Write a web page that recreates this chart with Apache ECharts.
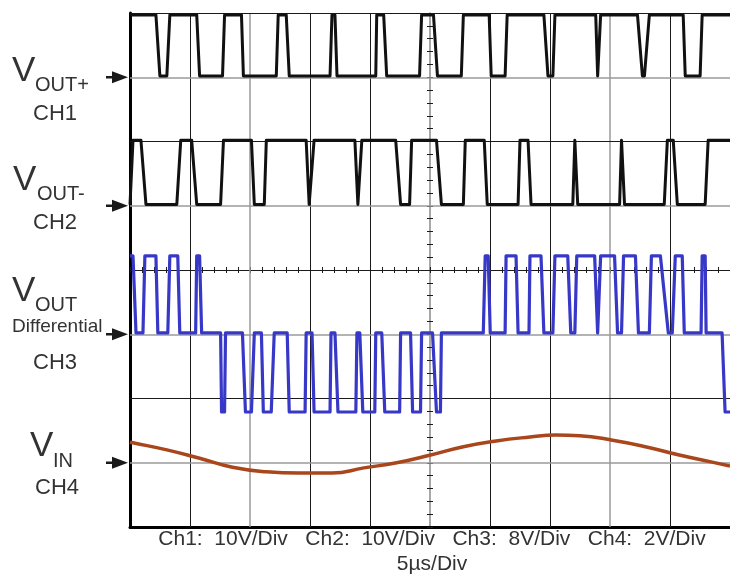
<!DOCTYPE html>
<html>
<head>
<meta charset="utf-8">
<script src="https://cdn.jsdelivr.net/npm/echarts@6/dist/echarts.min.js"></script>
<style>
html,body{margin:0;padding:0;background:#fff;}
#c{width:730px;height:576px;}
</style>
</head>
<body>
<div id="c"></div>
<script>
// ---------- DATA (time in µs, 5 µs/div; amplitude in screen divisions) ----------
const ch1 = [[0,7.97],[2.16,7.97],[2.49,7.02],[3.07,7.02],[3.32,7.97],[5.56,7.97],[5.80,7.02],[7.71,7.02],[7.88,7.97],[9.29,7.97],[9.45,7.02],[12.19,7.02],[12.35,7.97],[13.02,7.97],[13.27,7.02],[16.67,7.02],[16.83,7.97],[17.08,7.97],[17.25,7.02],[20.48,7.02],[20.56,7.97],[21.14,7.97],[21.39,7.02],[24.13,7.02],[24.30,7.97],[25.29,7.97],[25.62,7.02],[27.61,7.02],[27.78,7.97],[29.93,7.97],[30.10,7.02],[31.26,7.02],[31.43,7.97],[34.49,7.97],[34.83,7.02],[35.24,7.02],[35.41,7.97],[38.81,7.97],[38.97,7.02],[39.06,7.02],[39.22,7.97],[42.29,7.97],[42.70,7.02],[42.87,7.02],[43.28,7.97],[46.10,7.97],[46.27,7.02],[47.51,7.02],[47.68,7.97],[50,7.97]];

const ch2 = [[0,5.02],[0.25,6.02],[0.91,6.02],[1.33,5.02],[3.90,5.02],[4.23,6.02],[5.14,6.02],[5.56,5.02],[7.55,5.02],[7.79,6.02],[10.12,6.02],[10.36,5.02],[11.19,5.02],[11.36,6.02],[14.68,6.02],[14.93,5.02],[15.09,5.02],[15.34,6.02],[18.74,6.02],[18.99,5.02],[19.07,5.02],[19.32,6.02],[22.14,6.02],[22.55,5.02],[23.30,5.02],[23.47,6.02],[25.54,6.02],[25.95,5.02],[27.78,5.02],[27.94,6.02],[29.52,6.02],[29.77,5.02],[32.34,5.02],[32.50,6.02],[33.17,6.02],[33.42,5.02],[36.90,5.02],[37.07,6.02],[37.15,6.02],[37.31,5.02],[40.80,5.02],[40.96,6.02],[41.05,6.02],[41.21,5.02],[44.52,5.02],[44.78,6.02],[45.27,6.02],[45.61,5.02],[47.93,5.02],[48.18,6.02],[50,6.02]];

const ch3 = [[0,4.22],[0.25,4.22],[0.50,3.02],[1.08,3.02],[1.24,4.22],[2.16,4.22],[2.32,3.02],[3.15,3.02],[3.32,4.22],[3.98,4.22],[4.15,3.02],[5.47,3.02],[5.56,4.22],[5.80,4.22],[5.97,3.02],[7.55,3.02],[7.63,1.79],[7.88,1.79],[7.96,3.02],[9.37,3.02],[9.62,1.79],[10.12,1.79],[10.36,3.02],[10.95,3.02],[11.11,1.79],[11.77,1.79],[12.02,3.02],[13.10,3.02],[13.27,1.79],[14.59,1.79],[14.68,3.02],[15.17,3.02],[15.34,1.79],[16.67,1.79],[16.75,3.02],[17.08,3.02],[17.33,1.79],[18.82,1.79],[18.91,3.02],[19.15,3.02],[19.40,1.79],[20.40,1.79],[20.48,3.02],[20.98,3.02],[21.23,1.79],[22.47,1.79],[22.55,3.02],[23.38,3.02],[23.55,1.79],[24.21,1.79],[24.30,3.02],[25.21,3.02],[25.54,1.79],[25.87,1.79],[25.95,3.02],[29.44,3.02],[29.60,4.22],[29.85,4.22],[30.02,3.02],[31.26,3.02],[31.34,4.22],[32.17,4.22],[32.34,3.02],[33.25,3.02],[33.33,4.22],[34.25,4.22],[34.49,3.02],[35.24,3.02],[35.41,4.22],[36.48,4.22],[36.73,3.02],[37.07,3.02],[37.23,4.22],[38.72,4.22],[38.97,3.02],[39.22,4.22],[40.38,4.22],[40.63,3.02],[40.96,3.02],[41.13,4.22],[42.12,4.22],[42.37,3.02],[43.28,3.02],[43.45,4.22],[44.20,4.22],[44.86,3.02],[45.19,3.02],[45.44,4.22],[46.02,4.22],[46.19,3.02],[47.59,3.02],[47.68,4.22],[47.93,4.22],[48.01,3.02],[49.34,3.02],[49.59,1.79],[50,1.79]];

const ch4 = [[0,1.32],[0.25,1.31],[3.07,1.20],[5.80,1.07],[8.54,0.93],[11.36,0.86],[14.10,0.84],[16.83,0.84],[19.49,0.92],[22.22,1.00],[25.04,1.12],[27.78,1.25],[30.51,1.34],[33.33,1.40],[35.49,1.43],[37.48,1.42],[40.22,1.35],[42.95,1.25],[45.77,1.12],[48.51,1.01],[50,0.95]];

const timeDivLines = [5,10,15,20,30,35,40,45];   // µs
const timeDivFaint = [10,40];
const ampDivLines = [1,2,3,5,6,7];               // divisions
const ampDivFaint = [1,3,5,7];
const channelRefLevels = [7,5,3,1];              // ground-reference arrows CH1..CH4
const scaleText = 'Ch1:  10V/Div   Ch2:  10V/Div   Ch3:  8V/Div   Ch4:  2V/Div';
const timeText = '5µs/Div';

// ---------- CHART ----------
const chart = echarts.init(document.getElementById('c'), null, {renderer:'canvas'});
const FONT = '"Liberation Sans", Arial, sans-serif';
const DARK = '#1a1a1a', FAINT = '#9a9a9a';

const gridMarks = [];
timeDivLines.forEach(v => gridMarks.push({xAxis:v, lineStyle:{color: timeDivFaint.includes(v)?FAINT:DARK, width: timeDivFaint.includes(v)?1.5:1, type:'solid'}}));
ampDivLines.forEach(v => gridMarks.push({yAxis:v, lineStyle:{color: ampDivFaint.includes(v)?FAINT:DARK, width: ampDivFaint.includes(v)?1.5:1, type:'solid'}}));
gridMarks.push({yAxis:8, lineStyle:{color:DARK, width:1, type:'solid'}});

function trace(name, data, color, width, smooth){
  return {name, type:'line', data, showSymbol:false, symbol:'none', smooth: !!smooth, clip:false,
    lineStyle:{color, width, join:'round'}, animation:false, silent:true, z:5};
}

const hiddenAxis = {show:false};
const option = {
  backgroundColor:'#ffffff',
  animation:false,
  grid:{left:130, top:13, width:603, height:514, containLabel:false},
  xAxis:[
    {type:'value', min:0, max:50, interval:5,
      axisLine:{show:true, onZero:false, lineStyle:{color:'#000', width:3}},
      axisTick:{show:false}, axisLabel:{show:false}, splitLine:{show:false}},
    {type:'value', min:0, max:50, interval:5,
      axisLine:{show:true, onZero:true, onZeroAxisIndex:1, lineStyle:{color:DARK, width:1}},
      axisTick:{show:true, inside:true, length:3, lineStyle:{color:DARK}},
      minorTick:{show:true, splitNumber:5, length:3, lineStyle:{color:DARK}},
      axisLabel:{show:false}, splitLine:{show:false}},
    {type:'value', min:0, max:50, interval:5,
      axisLine:{show:false, onZero:true, onZeroAxisIndex:1},
      axisTick:{show:true, inside:false, length:3, lineStyle:{color:DARK}},
      minorTick:{show:true, splitNumber:5, length:3, lineStyle:{color:DARK}},
      axisLabel:{show:false}, splitLine:{show:false}},
    Object.assign({type:'value', min:-25, max:25}, hiddenAxis)
  ],
  yAxis:[
    {type:'value', min:0, max:8, interval:1,
      axisLine:{show:true, onZero:false, lineStyle:{color:'#000', width:3}},
      axisTick:{show:false}, axisLabel:{show:false}, splitLine:{show:false}},
    Object.assign({type:'value', min:-4, max:4}, hiddenAxis),
    {type:'value', min:0, max:8, interval:1,
      axisLine:{show:true, onZero:true, onZeroAxisIndex:3, lineStyle:{color:'#8a8a8a', width:1.5}},
      axisTick:{show:true, inside:true, length:3, lineStyle:{color:DARK}},
      minorTick:{show:true, splitNumber:5, length:3, lineStyle:{color:DARK}},
      axisLabel:{show:false}, splitLine:{show:false}},
    {type:'value', min:0, max:8, interval:1,
      axisLine:{show:false, onZero:true, onZeroAxisIndex:3},
      axisTick:{show:true, inside:false, length:3, lineStyle:{color:DARK}},
      minorTick:{show:true, splitNumber:5, length:3, lineStyle:{color:DARK}},
      axisLabel:{show:false}, splitLine:{show:false}}
  ],
  series:[
    {name:'grid', type:'line', data:[[0,0]], symbol:'none', lineStyle:{opacity:0}, silent:true, z:1,
      markLine:{silent:true, symbol:'none', label:{show:false}, animation:false, data:gridMarks}},
    trace('CH4', ch4, '#a9461b', 3.5, true),
    trace('CH3', ch3, '#3838c8', 3.2),
    trace('CH2', ch2, '#111111', 3),
    trace('CH1', ch1, '#111111', 3)
  ]
};
chart.setOption(option);

// ---------- annotations (labels + reference arrows) ----------
function txt(text, x, y, size, extra){
  return Object.assign({type:'text', x, y, silent:true, z:10,
    style:Object.assign({text, font: size+'px '+FONT, fill:'#333',
      textAlign:'left', align:'left', textVerticalAlign:'middle', verticalAlign:'middle'}, extra||{})});
}
const g = [];
g.push(txt('V', 12, 71, 35)); g.push(txt('OUT+', 35, 85, 20)); g.push(txt('CH1', 33, 114, 22));
g.push(txt('V', 13, 180, 35)); g.push(txt('OUT-', 37, 194, 20)); g.push(txt('CH2', 33, 223, 22));
g.push(txt('V', 12, 291, 35)); g.push(txt('OUT', 35, 305, 20)); g.push(txt('Differential', 12, 327, 19));
g.push(txt('CH3', 33, 363, 22));
g.push(txt('V', 30, 446, 35)); g.push(txt('IN', 53, 461, 20)); g.push(txt('CH4', 35, 488, 22));
g.push(txt(scaleText, 432, 539, 21, {textAlign:'center', align:'center'}));
g.push(txt(timeText, 432, 564, 21, {textAlign:'center', align:'center'}));

channelRefLevels.forEach(lv => {
  const p = chart.convertToPixel({xAxisIndex:0, yAxisIndex:0}, [0, lv]);
  const y = p[1];
  g.push({type:'polygon', silent:true, z:10, shape:{points:[[112,y-6],[128,y],[112,y+6]]}, style:{fill:'#1a1a1a'}});
  g.push({type:'line', silent:true, z:10, shape:{x1:106,y1:y,x2:114,y2:y}, style:{stroke:'#1a1a1a', lineWidth:2.5}});
});
chart.setOption({graphic:{elements:g}});
</script>
</body>
</html>
